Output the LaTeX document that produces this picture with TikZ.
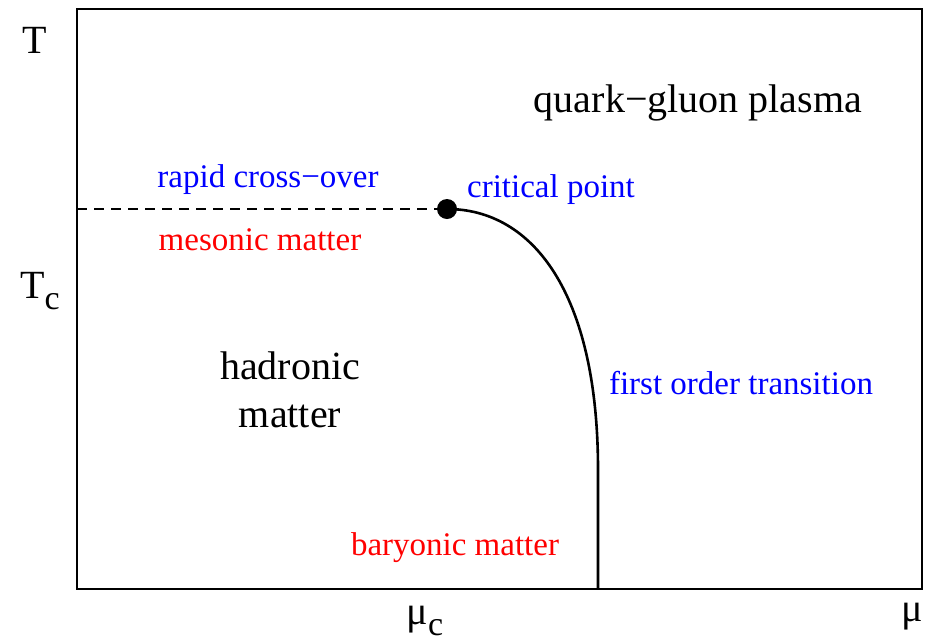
\documentclass[tikz,border=0pt]{standalone}
\usepackage{fontspec}
\setmainfont{Liberation Serif}
\usepackage{xcolor}
\colorlet{colCross}{blue}
\colorlet{colPhase}{red}
\usepackage{tikz}
\usetikzlibrary{arrows.meta, positioning, calc}
\newcommand{\subc}{\raisebox{-0.6ex}{\fontsize{17}{18}\selectfont c}}

\begin{document}
\begin{tikzpicture}[x=0.5pt, y=-0.5pt,
		big/.style={font=\fontsize{20}{24}\selectfont, inner sep=0pt},
		small/.style={font=\fontsize{16.5}{20}\selectfont, inner sep=0pt},
		transline/.style={line width=1.3pt, line cap=butt}]
				\useasboundingbox (0,0) rectangle (929,643);
				\draw[line width=0.75pt] (77,9) rectangle (922,589);
				% axis labels
				\node[big] (axT) at (35,40) {T};
				\node[big] (axTc) at (40,291) {T\subc};
				\node[big] (axmuc) at (425,621) {μ\subc};
				\node[big] (axmu) at (912,617) {μ};
				% phase line
				\coordinate (left) at (77,209);
				\coordinate (bottom) at (598,589);
				\node[circle, fill=black, inner sep=0pt, minimum size=10pt] (crit) at (447,209) {};
				\draw[transline, dash pattern=on 5pt off 3.5pt] (left) -- (crit.center);
				\draw[transline] (crit.center) .. controls (532,209) and (598,292) .. (598,470) -- (bottom);
				% labels
				\node[big] (qgp) at (698,103) {quark−gluon plasma};
				\node[big, align=center] (hadron) at (290,390) {hadronic\\matter};
				\node[small, colCross] (cross) at (268,180) {rapid cross−over};
				\node[small, colCross] (critlab) at (551,190) {critical point};
				\node[small, colCross] (first) at (741,383) {first order transition};
				\node[small, colPhase] (meson) at (260,240) {mesonic matter};
				\node[small, colPhase] (baryon) at (455,548) {baryonic matter};
			\end{tikzpicture}
\end{document}
